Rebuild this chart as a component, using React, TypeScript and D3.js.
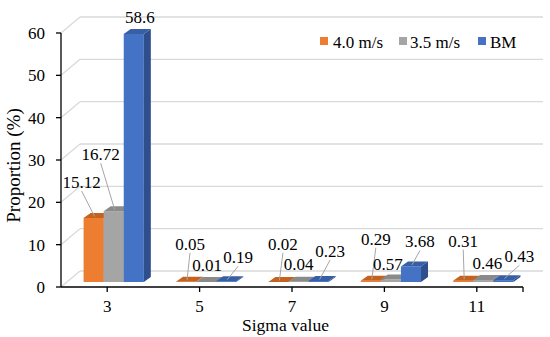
import React from "react";
import * as d3 from "d3";

const categories = ["3", "5", "7", "9", "11"];
const seriesNames = ["4.0 m/s", "3.5 m/s", "BM"];
const values40 = [15.12, 0.05, 0.02, 0.29, 0.31];
const values35 = [16.72, 0.01, 0.04, 0.57, 0.46];
const valuesBM = [58.6, 0.19, 0.23, 3.68, 0.43];
const yTicks = [0, 10, 20, 30, 40, 50, 60];

// label layout: offset of label centre from bar front-top centre, and whether a leader line is drawn
const labelLayout: [number, number, boolean][][] = [
  [[-12, -36, true], [4, -38, true], [4.5, -38, true], [5, -42, true], [0, -40, true]],
  [[-13, -57, true], [1, -17, false], [0, -18, false], [-3, -16, false], [4, -17, false]],
  [[6, -17, false], [12, -24, true], [11.5, -30, true], [9, -25, true], [16, -24, true]],
];

const frontColors = ["#ED7D31", "#A5A5A5", "#4472C4"];
const topColors = ["#C5621E", "#8A8A8A", "#365FA6"];
const sideColors = ["#B3561A", "#7A7A7A", "#2E4F8C"];

const W = 550, H = 337;
const left = 61, right = 523, yTop = 33, yBottom = 287;
const depthX = 19, depthY = -16;
const barOffX = 6.5, barOffY = -5;
const barDX = 7, barDY = -5;
const FONT = "Liberation Serif, Times New Roman, Times, DejaVu Serif, serif";

// Times-like advance widths (em) so that text keeps the reference's width whatever serif is used
const TW: Record<string, number> = {
  "0": 0.5, "1": 0.5, "2": 0.5, "3": 0.5, "4": 0.5, "5": 0.5, "6": 0.5, "7": 0.5, "8": 0.5, "9": 0.5,
  ".": 0.25, " ": 0.25, m: 0.778, "/": 0.278, s: 0.389, B: 0.667, M: 0.889, S: 0.556, i: 0.278, g: 0.5,
  a: 0.444, v: 0.5, l: 0.278, u: 0.5, e: 0.444, P: 0.556, r: 0.333, o: 0.5, p: 0.5, t: 0.278, n: 0.5,
  "(": 0.333, "%": 0.833, ")": 0.333,
};
const tw = (s: string, size: number) => s.split("").reduce((a, ch) => a + (TW[ch] ?? 0.5), 0) * size;

function T(props: { x: number; y: number; size: number; anchor?: string; dy?: string; transform?: string; children: string }) {
  const { x, y, size, anchor, dy, transform, children } = props;
  return (
    <text
      x={x}
      y={y}
      dy={dy}
      transform={transform}
      textAnchor={anchor || "start"}
      fontSize={size}
      textLength={tw(children, size)}
      lengthAdjust="spacingAndGlyphs"
      style={{ fontFamily: FONT }}
      fill="#000"
    >
      {children}
    </text>
  );
}

export default function App() {
  const series = [values40, values35, valuesBM];
  const x = d3.scaleBand<string>().domain(categories).range([left, right]).paddingInner(0).paddingOuter(0);
  const xs = d3.scaleBand<string>().domain(seriesNames).range([0, x.bandwidth()]).paddingInner(0).paddingOuter(0.8);
  const y = d3.scaleLinear().domain([0, 60]).range([yBottom, yTop]);

  const bars: JSX.Element[] = [];
  const labels: JSX.Element[] = [];
  categories.forEach((c, ci) => {
    seriesNames.forEach((s, si) => {
      const v = series[si][ci];
      const x0 = (x(c) as number) + (xs(s) as number) + barOffX;
      const x1 = x0 + xs.bandwidth();
      const yb = y(0) + barOffY;
      const yt = y(v) + barOffY;
      const key = `${ci}-${si}`;
      bars.push(
        <g key={key}>
          <rect x={x0} y={yt} width={x1 - x0} height={Math.max(0, yb - yt)} fill={frontColors[si]} />
          <path d={`M${x1},${yt}L${x1 + barDX},${yt + barDY}L${x1 + barDX},${yb + barDY}L${x1},${yb}Z`} fill={sideColors[si]} />
          <path d={`M${x0},${yt}L${x1},${yt}L${x1 + barDX},${yt + barDY}L${x0 + barDX},${yt + barDY}Z`} fill={topColors[si]} />
        </g>
      );
      const ax = (x0 + x1) / 2;
      const ay = yt;
      const [ox, oy, leader] = labelLayout[si][ci];
      const lx = ax + ox, ly = ay + oy;
      labels.push(
        <g key={"l" + key}>
          {leader && <line x1={lx} y1={ly + 9} x2={ax + 1} y2={ay - 1.5} stroke="#A6A6A6" strokeWidth={1} />}
          <T x={lx} y={ly} dy="0.35em" anchor="middle" size={17}>
            {String(v)}
          </T>
        </g>
      );
    });
  });

  const legendItems = [
    { name: seriesNames[0], sx: 320, tx: 333 },
    { name: seriesNames[1], sx: 399, tx: 410 },
    { name: seriesNames[2], sx: 478, tx: 490 },
  ];

  return (
    <svg width={W} height={H} style={{ position: "absolute", left: 0, top: 0, background: "#fff" }}>
      <rect width={W} height={H} fill="#fff" />
      {yTicks.map((t) => (
        <g key={"g" + t} stroke="#D9D9D9" strokeWidth={1.3}>
          <line x1={left} y1={y(t)} x2={left + depthX} y2={y(t) + depthY} />
          <line x1={left + depthX} y1={y(t) + depthY} x2={right + depthX + 1} y2={y(t) + depthY} />
        </g>
      ))}
      {bars}
      <line x1={left} y1={yTop} x2={left} y2={yBottom} stroke="#000" strokeWidth={1.3} />
      {yTicks.map((t) => (
        <g key={"yt" + t}>
          <line x1={left - 5} y1={y(t)} x2={left} y2={y(t)} stroke="#000" strokeWidth={1.3} />
          <T x={45} y={y(t)} dy="0.35em" anchor="end" size={17}>
            {String(t)}
          </T>
        </g>
      ))}
      <line x1={left} y1={yBottom} x2={right} y2={yBottom} stroke="#000" strokeWidth={1.3} />
      {categories.map((c) => {
        const cx = (x(c) as number) + x.bandwidth() / 2;
        return (
          <g key={"xt" + c}>
            <line x1={cx} y1={yBottom} x2={cx} y2={yBottom + 5} stroke="#000" strokeWidth={1.3} />
            <T x={cx} y={312} anchor="middle" size={17}>
              {c}
            </T>
          </g>
        );
      })}
      <line x1={right} y1={yBottom} x2={right} y2={yBottom + 5} stroke="#000" strokeWidth={1.3} />
      {labels}
      <T x={285.5} y={331} anchor="middle" size={17.5}>
        Sigma value
      </T>
      <T x={0} y={0} transform="translate(20,165.5) rotate(-90)" anchor="middle" size={19}>
        Proportion (%)
      </T>
      {legendItems.map((it, i) => (
        <g key={"lg" + i}>
          <rect x={it.sx} y={37} width={8} height={8} fill={frontColors[i]} />
          <T x={it.tx} y={47.5} size={17}>
            {it.name}
          </T>
        </g>
      ))}
    </svg>
  );
}
